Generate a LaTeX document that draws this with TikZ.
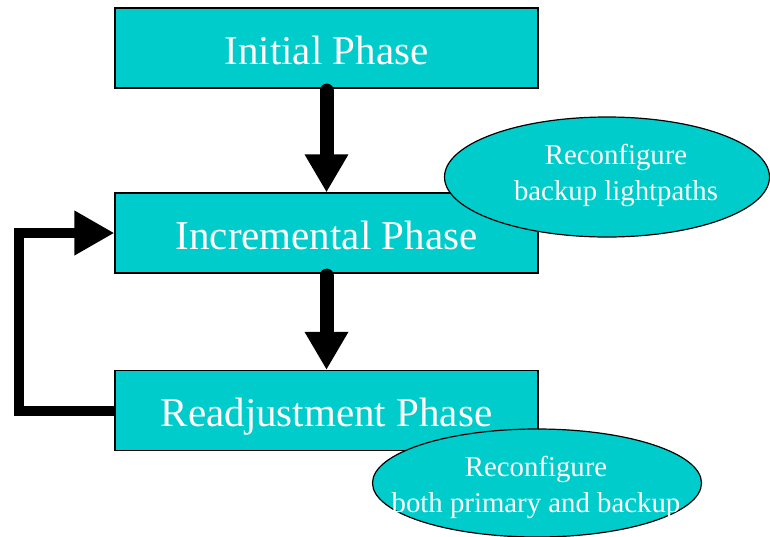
\documentclass[tikz,border=0pt]{standalone}
\usepackage{fontspec}
\setmainfont{Liberation Serif}
\usetikzlibrary{shapes.geometric,arrows.meta}
\definecolor{phasecyan}{RGB}{0,204,204}
\tikzset{
  phasebox/.style={draw=black, line width=1.2pt, fill=phasecyan, text=white,
    minimum width=423pt, minimum height=80pt, inner sep=0pt,
    text height=34pt, text depth=2pt,
    font=\fontsize{41}{49}\selectfont},
  noteellipse/.style={ellipse, draw=black, line width=1.2pt, fill=phasecyan, inner sep=0pt},
  notetext/.style={text=white, align=center, font=\fontsize{28.8}{36}\selectfont, inner sep=0pt},
  flowarrow/.style={line width=14pt, line cap=round, -{Triangle[length=38pt,width=41pt]}},
  backarrow/.style={line width=10pt, line join=miter, -{Triangle[length=40pt,width=42pt]}}
}
\begin{document}
\begin{tikzpicture}[x=1pt,y=-1pt]
\clip (0,0) rectangle (770,536);
\fill[white] (0,0) rectangle (770,536);
\node[phasebox] (init) at (326.5,48) {Initial Phase};
\node[phasebox] (incr) at (326.5,233) {Incremental Phase};
\node[phasebox] (readj) at (326.5,410.5) {Readjustment Phase};
\draw[flowarrow] ([yshift=-2pt]init.south) -- (incr.north);
\draw[flowarrow] ([yshift=-2pt]incr.south) -- (readj.north);
\draw[backarrow] (readj.west) -- ++(-95,0) |- (incr.west);
\node[noteellipse, minimum width=325pt, minimum height=120pt] (e1) at (607,177) {};
\node[notetext] (t1) at (616,175) {Reconfigure\\backup lightpaths};
\node[noteellipse, minimum width=329pt, minimum height=108pt] (e2) at (537,483) {};
\node[notetext] (t2) at (536,487) {Reconfigure\\both primary and backup};
\end{tikzpicture}
\end{document}
